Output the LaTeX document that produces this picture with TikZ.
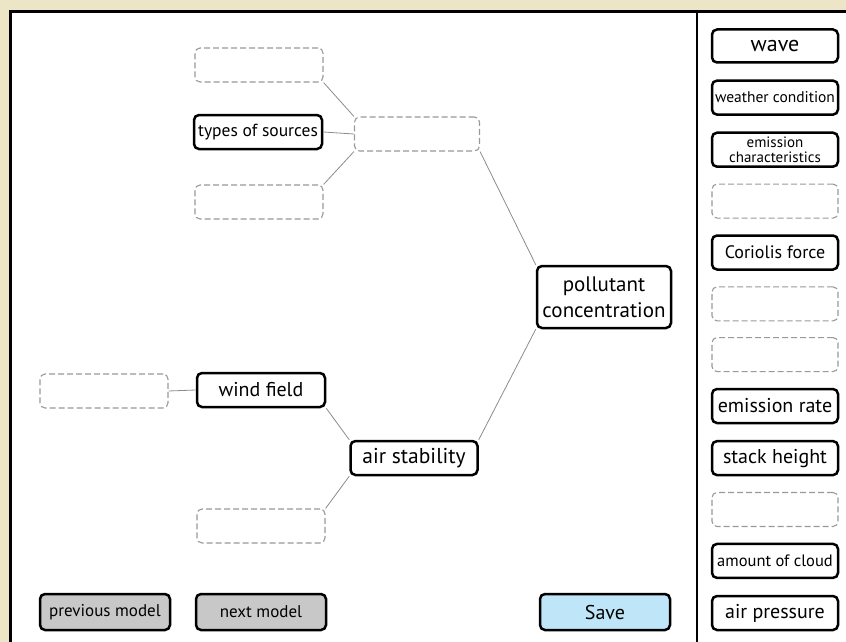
\documentclass[tikz,border=0pt]{standalone}
\usepackage{fontspec}
\setmainfont{PT Sans}
\usepackage{tikz}
\usetikzlibrary{positioning}
\definecolor{frame}{RGB}{236,229,198}
\definecolor{btngray}{RGB}{200,200,200}
\definecolor{btnblue}{RGB}{190,230,248}
\definecolor{linkgray}{RGB}{140,140,140}
\tikzstyle{concept} = [rectangle, rounded corners=5pt, minimum width=128pt, minimum height=34pt, inner sep=2pt, text centered, draw=black, line width=2.5pt, fill=white, font=\fontsize{20}{22}\selectfont]
\tikzstyle{blank} = [rectangle, rounded corners=5pt, minimum width=128pt, minimum height=34pt, draw=black!40, line width=1.1pt, dash pattern=on 6pt off 3pt]
\tikzstyle{small} = [font=\fontsize{15}{14.5}\selectfont]
\tikzstyle{button} = [concept, minimum width=130pt, minimum height=36pt]
\tikzstyle{link} = [draw=linkgray, line width=0.8pt]

\begin{document}
\begin{tikzpicture}[x=1pt, y=-1pt, node distance=15.6pt]
\useasboundingbox (0,0) rectangle (846,642);
\fill[frame] (0,0) rectangle (846,642);
\fill[white] (10,12) rectangle (846,642);
\draw[line width=3pt] (10,642) -- (10,12) -- (846,12);
\draw[line width=2.5pt] (697,12) -- (697,642);

% Concept map
\node (topblank) [blank] at (259,65) {};
\node (sources) [concept, font=\fontsize{17.5}{19}\selectfont] at (258,132) {types of sources};
\node (hub) [blank, minimum width=125pt] at (417,134) {};
\node (midblank) [blank] at (259,202) {};
\node (pollutant) [concept, minimum width=134pt, minimum height=62pt, align=center, font=\fontsize{21}{26}\selectfont] at (604,297) {pollutant\\concentration};
\node (leftblank) [blank] at (104,391) {};
\node (wind) [concept] at (261,390) {wind field};
\node (stability) [concept, minimum width=127pt, font=\fontsize{21.5}{23}\selectfont] at (414,458) {air stability};
\node (lowblank) [blank] at (261,526) {};

\draw [link] (topblank.south east) -- (hub.north west);
\draw [link] (sources.east) -- (hub.west);
\draw [link] (midblank.north east) -- (hub.south west);
\draw [link] (hub.south east) -- (pollutant.north west);
\draw [link] (stability.north east) -- (pollutant.south west);
\draw [link] (leftblank.east) -- (wind.west);
\draw [link] (wind.south east) -- (stability.north west);
\draw [link] (lowblank.north east) -- (stability.south west);

% Buttons
\node (previous) [button, fill=btngray, font=\fontsize{17}{18}\selectfont] at (105,612) {previous model};
\node (next) [button, fill=btngray, font=\fontsize{17}{18}\selectfont] at (261,612) {next model};
\node (save) [button, fill=btnblue] at (605,612) {Save};

% Right panel
\node (wave) [concept, minimum width=126pt, minimum height=33pt, font=\fontsize{22}{24}\selectfont] at (775,46) {wave};
\node (weather) [concept, minimum width=126pt, below=of wave, font=\fontsize{15.5}{17}\selectfont] {weather condition};
\node (emchar) [concept, minimum width=126pt, below=of weather, align=center, inner sep=1pt, small] {emission\\characteristics};
\node (blank1) [blank, minimum width=126pt, below=of emchar] {};
\node (coriolis) [concept, minimum width=126pt, below=of blank1, font=\fontsize{18}{20}\selectfont] {Coriolis force};
\node (blank2) [blank, minimum width=126pt, below=of coriolis] {};
\node (blank3) [blank, minimum width=126pt, below=of blank2] {};
\node (emrate) [concept, minimum width=126pt, below=of blank3] {emission rate};
\node (stack) [concept, minimum width=126pt, below=of emrate] {stack height};
\node (blank4) [blank, minimum width=126pt, below=of stack] {};
\node (cloud) [concept, minimum width=126pt, below=of blank4, font=\fontsize{16.5}{18}\selectfont] {amount of cloud};
\node (pressure) [concept, minimum width=126pt, below=of cloud] {air pressure};

\end{tikzpicture}
\end{document}
